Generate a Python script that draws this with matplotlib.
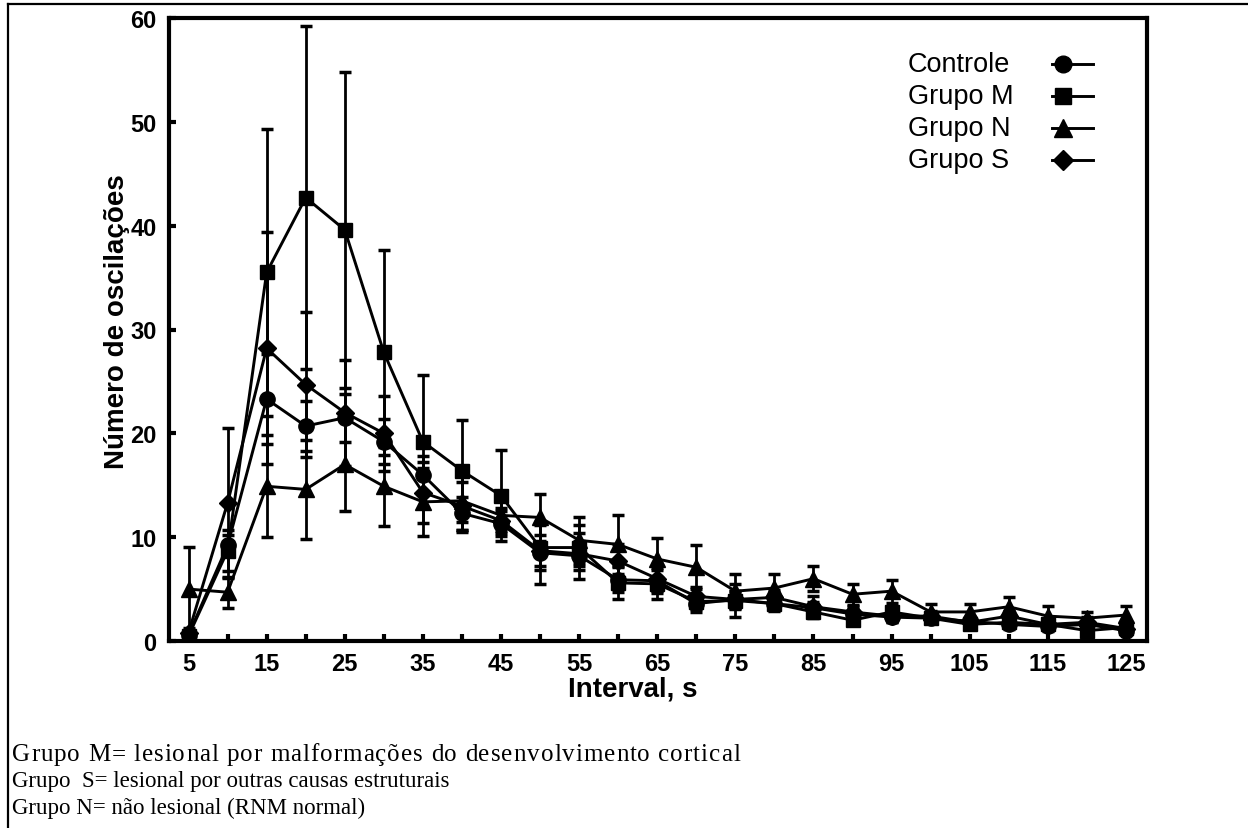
import matplotlib
matplotlib.use("Agg")
import matplotlib.pyplot as plt
from matplotlib.lines import Line2D

# Number of oscillations per interval bin (mean +/- error) for each group
interval = [5, 10, 15, 20, 25, 30, 35, 40, 45, 50, 55, 60, 65,
            70, 75, 80, 85, 90, 95, 100, 105, 110, 115, 120, 125]

controle = [0.6, 9.2, 23.3, 20.7, 21.5, 19.2, 16.0, 12.3, 11.3, 8.5, 8.2, 5.9, 5.8,
            3.6, 4.0, 3.6, 3.2, 2.6, 2.3, 2.2, 1.9, 1.6, 1.4, 1.6, 1.0]
controle_err = [0.5, 1.0, 4.3, 2.4, 2.3, 2.2, 1.8, 1.6, 1.2, 3.0, 2.2, 1.2, 1.0,
                0.8, 0.8, 0.7, 0.6, 0.5, 0.5, 0.5, 0.4, 0.4, 0.4, 0.4, 0.3]

grupo_m = [0.5, 8.7, 35.5, 42.7, 39.6, 27.8, 19.2, 16.4, 14.0, 9.0, 9.0, 5.6, 5.5,
           3.8, 3.9, 3.6, 2.8, 2.0, 2.8, 2.2, 1.6, 1.8, 1.6, 1.0, 1.3]
grupo_m_err = [0.5, 2.0, 13.8, 16.5, 15.2, 9.9, 6.4, 4.9, 4.4, 2.2, 2.2, 1.6, 1.5,
               0.7, 1.6, 0.6, 0.6, 0.5, 0.5, 0.5, 0.4, 0.4, 0.3, 0.3, 0.3]

grupo_n = [5.0, 4.7, 14.9, 14.6, 17.0, 14.9, 13.4, 13.5, 12.1, 11.9, 9.7, 9.3, 7.9,
           7.1, 4.8, 5.1, 6.0, 4.5, 4.8, 2.8, 2.8, 3.3, 2.4, 2.2, 2.5]
grupo_n_err = [4.1, 1.5, 4.9, 4.8, 4.5, 3.8, 3.3, 3.0, 1.5, 2.3, 2.2, 2.8, 2.0,
               2.1, 1.7, 1.4, 1.2, 1.0, 1.1, 0.8, 0.8, 0.9, 1.0, 0.6, 0.9]

grupo_s = [0.8, 13.3, 28.2, 24.7, 22.0, 20.0, 14.3, 13.0, 11.6, 8.7, 8.4, 7.7, 6.0,
           4.3, 4.0, 4.2, 3.3, 2.8, 2.4, 2.4, 1.8, 2.4, 1.6, 1.8, 1.2]
grupo_s_err = [0.5, 7.2, 11.2, 7.0, 5.1, 3.6, 2.9, 2.3, 1.2, 1.5, 1.2, 1.6, 1.4,
               0.9, 0.8, 0.7, 1.0, 0.6, 0.6, 0.5, 0.4, 0.5, 0.4, 0.5, 0.4]

labels = ["Controle", "Grupo M", "Grupo N", "Grupo S"]
markers = ["o", "s", "^", "D"]
xtick_major = [5, 15, 25, 35, 45, 55, 65, 75, 85, 95, 105, 115, 125]
xtick_minor = [10, 20, 30, 40, 50, 60, 70, 80, 90, 100, 110, 120]
yticks = [0, 10, 20, 30, 40, 50, 60]

notes = ["Grupo M= lesional por malformações do desenvolvimento cortical",
         "Grupo  S= lesional por outras causas estruturais",
         "Grupo N= não lesional (RNM normal)"]

plt.rcParams["font.family"] = "Liberation Sans"

W, H = 1248, 829
fig = plt.figure(figsize=(W / 100, H / 100), dpi=100)
ax = fig.add_axes([169 / W, 1 - 642 / H, (1147 - 169) / W, (642 - 19) / H])

series = [(controle, controle_err), (grupo_m, grupo_m_err),
          (grupo_n, grupo_n_err), (grupo_s, grupo_s_err)]
sizes = [11, 10.5, 11.5, 9.5]
for (vals, errs), lab, mk, ms in zip(series, labels, markers, sizes):
    ax.errorbar(interval, vals, yerr=errs, color="black", marker=mk,
                markersize=ms, lw=2.1, elinewidth=2, capsize=4.5,
                capthick=2.5, label=lab)

ax.set_xlim(2.5, 127.7)
ax.set_ylim(0, 60)
ax.set_xticks(xtick_major)
ax.set_xticks(xtick_minor, minor=True)
ax.set_yticks(yticks)
ax.tick_params(axis="both", which="both", direction="in", length=5, width=3,
               labelsize=17, top=False, right=False)
ax.tick_params(axis="x", pad=8)
ax.tick_params(axis="y", pad=9)
for t in ax.get_xticklabels() + ax.get_yticklabels():
    t.set_fontweight("bold")
for sp in ax.spines.values():
    sp.set_linewidth(3)

ax.set_xlabel("Interval, s", fontsize=20, fontweight="bold")
ax.xaxis.set_label_coords((633 - 169) / (1147 - 169), -(690 - 642) / (642 - 19))
ax.set_ylabel("Número de oscilações", fontsize=20, fontweight="bold")
ax.yaxis.set_label_coords(-(169 - 117) / (1147 - 169), 0.514)
ax.xaxis.label.set_va("center")
ax.yaxis.label.set_va("center")

# legend: label on the left, marker and line sample on the right
for i, (lab, mk, ms) in enumerate(zip(labels, markers, sizes)):
    yy = 1 - (65 + 32 * i) / H
    fig.text(908 / W, yy, lab, fontsize=19.5, va="center", ha="left")
    fig.add_artist(Line2D([1052 / W, 1093 / W], [yy, yy], transform=fig.transFigure,
                          color="black", lw=2.1))
    fig.add_artist(Line2D([1063 / W], [yy], transform=fig.transFigure,
                          color="black", marker=mk, markersize=ms + 1, lw=0))

# page frame around the figure
fig.add_artist(Line2D([8 / W, 8 / W], [0, 1 - 5 / H], transform=fig.transFigure,
                      color="black", lw=1.6))
fig.add_artist(Line2D([8 / W, 1], [1 - 5 / H, 1 - 5 / H], transform=fig.transFigure,
                      color="black", lw=1.6))

# footnotes; the first line is a bit larger and slightly spaced so it runs to ~740 px
note_kw = dict(family="Liberation Serif", fontsize=16.5, va="baseline", ha="left")
first_kw = dict(note_kw, fontsize=18)
renderer = fig.canvas.get_renderer()
base = 1 - 761 / H


def advance(s, kw):
    # width of s including trailing spaces, measured against a marker glyph
    a = fig.text(0, 0, s + "|", **kw)
    b = fig.text(0, 0, "|", **kw)
    w = a.get_window_extent(renderer).width - b.get_window_extent(renderer).width
    a.remove()
    b.remove()
    return w


line0 = notes[0]
natural = advance(line0, first_kw)
track = max(0.0, (740 - 12 - natural) / (len(line0) - 1))
for i, ch in enumerate(line0):
    if ch == " ":
        continue
    x = 12 + advance(line0[:i], first_kw) + i * track
    fig.text(x / W, base, ch, **first_kw)

for i, line in enumerate(notes[1:], start=1):
    fig.text(12 / W, base - 26.5 * i / H, line, **note_kw)

fig.savefig("out.png", dpi=100)
